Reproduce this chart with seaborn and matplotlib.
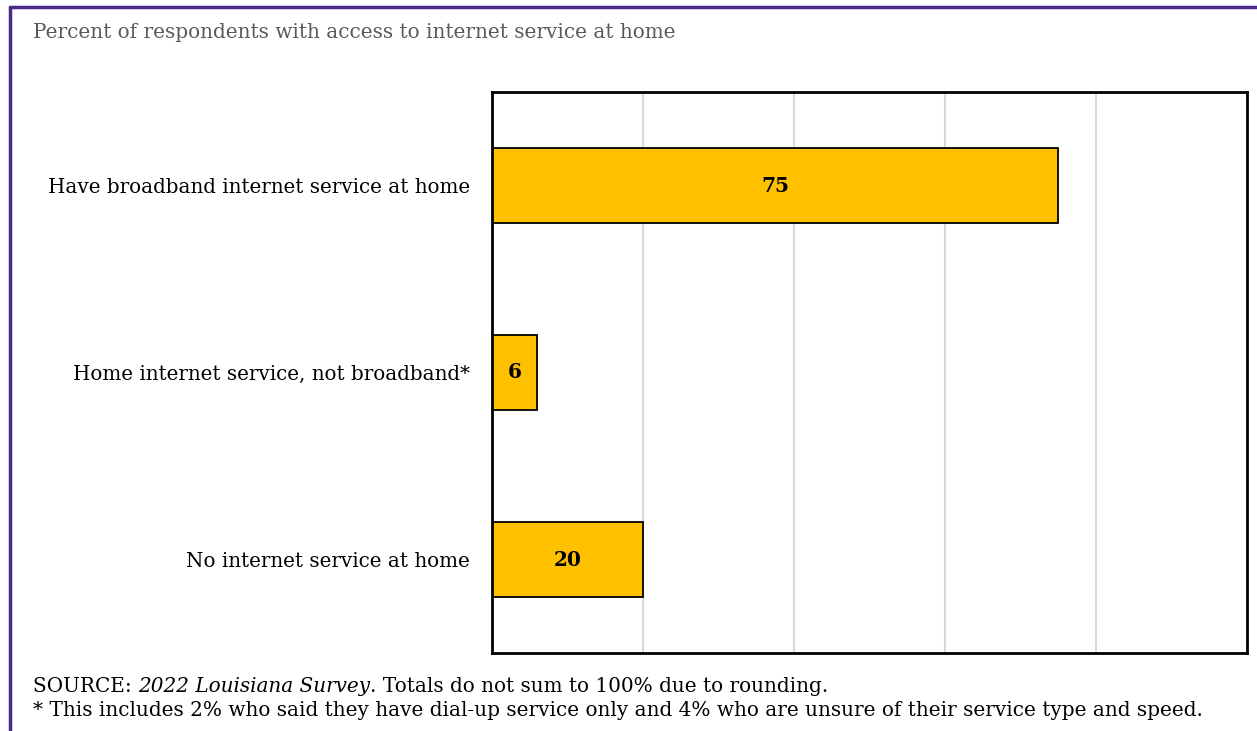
import matplotlib
matplotlib.use("Agg")
import matplotlib.pyplot as plt
import seaborn as sns
import pandas as pd
from matplotlib.lines import Line2D

categories = [
    "Have broadband internet service at home",
    "Home internet service, not broadband*",
    "No internet service at home",
]
values = [75, 6, 20]

title = "Percent of respondents with access to internet service at home"
source_prefix = "SOURCE: "
source_italic = "2022 Louisiana Survey"
source_rest = ". Totals do not sum to 100% due to rounding."
footnote = ("* This includes 2% who said they have dial-up service only and 4% "
            "who are unsure of their service type and speed.")

sns.set_theme(style="white")
plt.rcParams["font.family"] = ["DejaVu Serif"]

df = pd.DataFrame({"category": categories, "value": values})

W, H = 1257, 731
fig = plt.figure(figsize=(W / 100, H / 100), dpi=100)
ax = fig.add_axes([492 / W, 1 - 653 / H, (1247 - 492) / W, (653 - 92) / H])

sns.barplot(data=df, y="category", x="value", orient="h", color="#FFC000",
            edgecolor="black", linewidth=1.3, width=0.4, saturation=1, ax=ax)

ax.set_xlim(0, 100)
ax.set_ylim(2.5, -0.5)
ax.set_xticks([20, 40, 60, 80])
ax.set_xticklabels([])
ax.tick_params(axis="x", length=0)
ax.tick_params(axis="y", length=0, pad=16, labelsize=14.3, labelcolor="black")
ax.grid(axis="x", color="#d9d9d9", linewidth=1.5)
ax.set_axisbelow(True)
ax.set_xlabel("")
ax.set_ylabel("")
for s in ax.spines.values():
    s.set_visible(True)
    s.set_color("black")
    s.set_linewidth(2)

for p, v in zip(ax.patches, values):
    cx = p.get_x() + p.get_width() / 2
    cy = p.get_y() + p.get_height() / 2
    ax.text(cx, cy, f"{v}", ha="center", va="center", fontsize=14.5,
            fontweight="bold", color="black")

# purple frame: top and left edges
fig.add_artist(Line2D([10 / W, 1], [1 - 7 / H, 1 - 7 / H], color="#4B2A8A",
                      linewidth=2.5, transform=fig.transFigure))
fig.add_artist(Line2D([10 / W, 10 / W], [0, 1 - 7 / H], color="#4B2A8A",
                      linewidth=2.5, transform=fig.transFigure))

fig.text(33 / W, 1 - 32 / H, title, fontsize=14.4, color="#595959",
         ha="left", va="center")

# source line with italic survey name
fs = 14.4
t1 = fig.text(33 / W, 1 - 686 / H, source_prefix, fontsize=fs, color="black",
              ha="left", va="center")
fig.canvas.draw()
r = fig.canvas.get_renderer()
bb = t1.get_window_extent(renderer=r)
t2 = fig.text(bb.x1 / W, 1 - 686 / H, source_italic, fontsize=fs,
              style="italic", color="black", ha="left", va="center")
bb2 = t2.get_window_extent(renderer=r)
fig.text(bb2.x1 / W, 1 - 686 / H, source_rest, fontsize=fs, color="black",
         ha="left", va="center")
fig.text(33 / W, 1 - 711 / H, footnote, fontsize=fs, color="black",
         ha="left", va="center")

fig.savefig("out.png", dpi=100)
